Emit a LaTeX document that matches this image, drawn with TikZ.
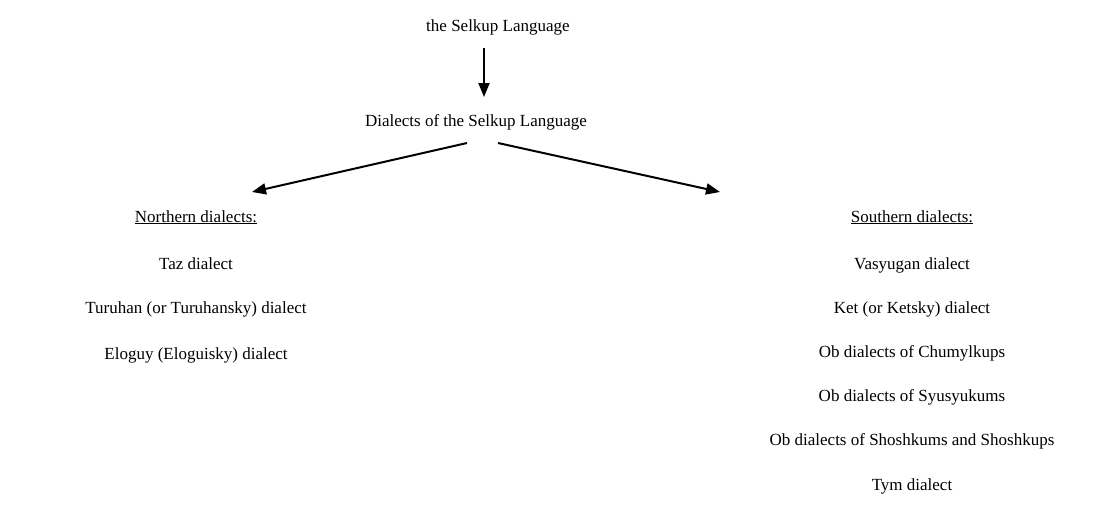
\documentclass[tikz,border=0pt]{standalone}
\usepackage{fontspec}
\setmainfont{Liberation Serif}
\usetikzlibrary{arrows.meta}
\begin{document}
\begin{tikzpicture}[x=1pt,y=-1pt,
  lbl/.style={anchor=base,inner sep=0pt,font=\fontsize{17}{20}\selectfont},
  arr/.style={line width=2pt,-{Triangle[length=14pt,width=11pt]}}]
\useasboundingbox (0,0) rectangle (1112,525);
\node[lbl] (top) at (498,31) {the Selkup Language};
\node[lbl] (dial) at (476,126) {Dialects of the Selkup Language};
\node[lbl] (north) at (196,222) {\underline{Northern dialects:}};
\node[lbl] (south) at (912,222) {\underline{Southern dialects:}};
\node[lbl] (n1) at (196,269) {Taz dialect};
\node[lbl] (n2) at (196,313) {Turuhan (or Turuhansky) dialect};
\node[lbl] (n3) at (196,359) {Eloguy (Eloguisky) dialect};
\node[lbl] (s1) at (912,269) {Vasyugan dialect};
\node[lbl] (s2) at (912,313) {Ket (or Ketsky) dialect};
\node[lbl] (s3) at (912,357) {Ob dialects of Chumylkups};
\node[lbl] (s4) at (912,401) {Ob dialects of Syusyukums};
\node[lbl] (s5) at (912,445) {Ob dialects of Shoshkums and Shoshkups};
\node[lbl] (s6) at (912,490) {Tym dialect};
\coordinate (a0) at (484,48);
\coordinate (a1) at (484,97);
\coordinate (l0) at (467,143);
\coordinate (l1) at (252,192);
\coordinate (r0) at (498,143);
\coordinate (r1) at (720,192);
\draw[arr] (a0) -- (a1);
\draw[arr] (l0) -- (l1);
\draw[arr] (r0) -- (r1);
\end{tikzpicture}
\end{document}
